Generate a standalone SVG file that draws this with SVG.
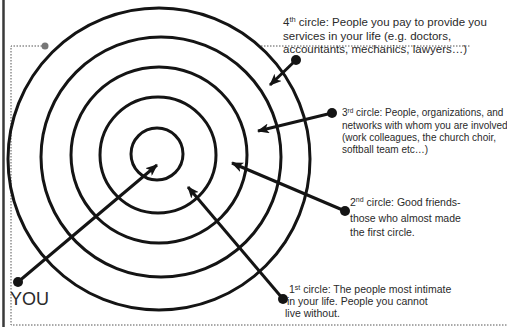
<svg xmlns="http://www.w3.org/2000/svg" width="507" height="327" viewBox="0 0 507 327">
<style>
.ring{fill:none;stroke:#141414;stroke-width:3}
.conn{stroke:#141414;stroke-width:3;fill:none}
.dot{fill:#141414}
.t{font-family:"Liberation Sans",Arial,sans-serif;fill:#2a2a2a}
.dotted{stroke:#555;stroke-width:1;stroke-dasharray:1.5 1.5;fill:none}
</style>
<defs>
<marker id="ah" viewBox="0 0 12 10" refX="11" refY="5" markerWidth="12" markerHeight="10" markerUnits="userSpaceOnUse" orient="auto">
<path d="M0,0 L12,5 L0,10 L3,5 Z" fill="#141414"/>
</marker>
</defs>
<rect width="507" height="327" fill="#fff"/>
<g id="frame">
<line x1="3.5" y1="0" x2="3.5" y2="327" stroke="#3a3a3a" stroke-width="2.5"/>
<polyline class="dotted" points="45,46 11,46 11,325 507,325"/>
<line class="dotted" x1="258" y1="46" x2="470" y2="46"/>
<circle cx="45" cy="46" r="3.5" fill="#777"/>
</g>
<g id="circles">
<circle id="c1" class="ring" cx="157" cy="154" r="26"/>
<circle id="c2" class="ring" cx="158" cy="155" r="58"/>
<circle id="c3" class="ring" cx="159" cy="155" r="88"/>
<circle id="c4" class="ring" cx="161" cy="157" r="120"/>
<circle id="c5" class="ring" cx="159" cy="159" r="151"/>
</g>
<g id="connectors">
<line class="conn" x1="18" y1="282" x2="157" y2="165" marker-end="url(#ah)"/>
<line class="conn" x1="283" y1="299" x2="188" y2="187" marker-end="url(#ah)"/>
<line class="conn" x1="345" y1="211" x2="232" y2="163" marker-end="url(#ah)"/>
<line class="conn" x1="332" y1="113" x2="258" y2="131" marker-end="url(#ah)"/>
<line class="conn" x1="296" y1="60" x2="270" y2="85" marker-end="url(#ah)"/>
<circle class="dot" cx="18" cy="282" r="5"/>
<circle class="dot" cx="283" cy="299" r="5"/>
<circle class="dot" cx="345" cy="211" r="5"/>
<circle class="dot" cx="332" cy="113" r="5"/>
<circle class="dot" cx="296" cy="60" r="5"/>
</g>
<g id="you">
<text class="t" x="10" y="305" font-size="18">YOU</text>
</g>
<g id="label4">
<text class="t" font-size="11.5">
<tspan x="283" y="26">4<tspan font-size="7.5" dy="-4">th</tspan><tspan dy="4"> circle: People you pay to provide you</tspan></tspan>
<tspan x="283" y="40">services in your life (e.g. doctors,</tspan>
<tspan x="283" y="53">accountants, mechanics, lawyers…)</tspan>
</text>
</g>
<g id="label3">
<text class="t" font-size="10">
<tspan x="342" y="116">3<tspan font-size="6.5" dy="-3.5">rd</tspan><tspan dy="3.5"> circle: People, organizations, and</tspan></tspan>
<tspan x="342" y="129">networks with whom you are involved</tspan>
<tspan x="342" y="141">(work colleagues, the church choir,</tspan>
<tspan x="342" y="153">softball team etc…)</tspan>
</text>
</g>
<g id="label2">
<text class="t" font-size="10.5">
<tspan x="350" y="206">2<tspan font-size="7" dy="-4">nd</tspan><tspan dy="4"> circle: Good friends-</tspan></tspan>
<tspan x="350" y="222">those who almost made</tspan>
<tspan x="350" y="236">the first circle.</tspan>
</text>
</g>
<g id="label1">
<text class="t" font-size="10.5">
<tspan x="289" y="293">1<tspan font-size="7" dy="-3.5">st</tspan><tspan dy="3.5"> circle: The people most intimate</tspan></tspan>
<tspan x="287" y="305">in your life.  People you cannot</tspan>
<tspan x="285" y="317">live without.</tspan>
</text>
</g>
</svg>
